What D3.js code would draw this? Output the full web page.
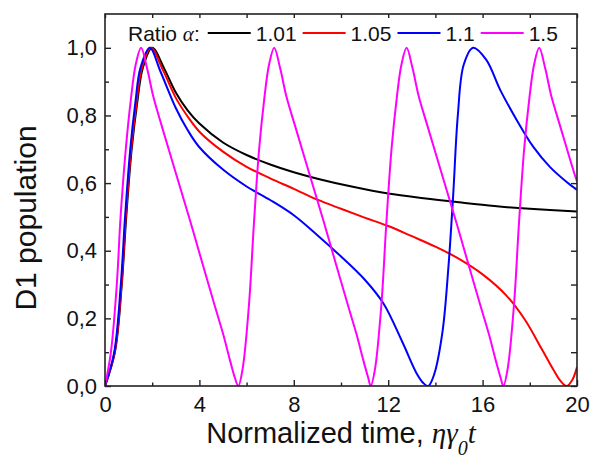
<!DOCTYPE html>
<html>
<head>
<meta charset="utf-8">
<script src="https://cdn.jsdelivr.net/npm/d3@7"></script>
<style>
  body { margin: 0; background: #fff; }
  svg { display: block; font-family: "Liberation Sans", Arial, sans-serif; }
</style>
</head>
<body>
<div id="chart"></div>
<script>
// values: [normalized time, D1 population]
const ratios = ["1.01", "1.05", "1.1", "1.5"];
const colors = ["#000000", "#ff0000", "#0000ff", "#ff00ff"];

const black101 = [[0,0],[0.42,0.1],[0.71,0.3],[0.9,0.5],[1.13,0.7],[1.37,0.84],[1.6,0.94],[2.0,1.0],[2.5,0.94],[3.0,0.868],[3.5,0.815],[4.0,0.776],[5.0,0.72],[6.0,0.683],[7.0,0.655],[8.0,0.632],[9.0,0.613],[10.5,0.589],[12.0,0.569],[13.5,0.555],[15.0,0.543],[16.5,0.532],[18.0,0.524],[20,0.516]];

const red105 = [[0,0],[0.41,0.1],[0.7,0.3],[0.88,0.5],[1.11,0.7],[1.34,0.84],[1.56,0.94],[1.95,1.0],[2.45,0.935],[3.0,0.852],[3.5,0.797],[4.0,0.752],[5.0,0.693],[6.0,0.648],[7.0,0.614],[8.0,0.583],[9.0,0.551],[10.0,0.524],[11.0,0.498],[12.0,0.473],[13.0,0.443],[14.0,0.412],[15.0,0.376],[16.0,0.33],[17.0,0.268],[17.8,0.195],[18.5,0.11],[19.0,0.048],[19.3,0.015],[19.56,0],[19.8,0.018],[20,0.056]];

const blue11 = [[0,0],[0.39,0.1],[0.67,0.3],[0.85,0.5],[1.07,0.7],[1.29,0.84],[1.5,0.94],[1.9,1.0],[2.35,0.93],[3.0,0.822],[3.5,0.757],[4.0,0.706],[5.0,0.64],[6.0,0.59],[7.0,0.55],[8.0,0.505],[9.0,0.446],[10.0,0.383],[11.0,0.315],[11.8,0.244],[12.6,0.13],[13.2,0.038],[13.5,0.008],[13.7,0],[13.95,0.035],[14.3,0.16],[14.55,0.35],[14.75,0.56],[14.95,0.8],[15.2,0.95],[15.6,1.0],[16.15,0.965],[16.75,0.875],[17.45,0.786],[18.15,0.707],[18.85,0.648],[19.55,0.604],[20,0.58]];

const magenta15 = [[0,0],[0.25,0.1],[0.5,0.3],[0.66,0.5],[0.88,0.7],[1.1,0.85],[1.3,0.95],[1.53,1.0],[1.78,0.94],[2.05,0.855],[2.4,0.77],[3.0,0.63],[3.6,0.49],[4.2,0.345],[4.66,0.235],[5.0,0.155],[5.3,0.075],[5.5,0.025],[5.65,0],
  [5.83,0.05],[6.1,0.24],[6.31,0.48],[6.53,0.7],[6.75,0.85],[6.95,0.95],[7.17,1.0],[7.42,0.94],[7.69,0.855],[8.05,0.77],[8.65,0.63],[9.25,0.49],[9.85,0.345],[10.31,0.235],[10.65,0.155],[10.95,0.075],[11.15,0.025],[11.26,0],
  [11.44,0.05],[11.71,0.24],[11.92,0.48],[12.14,0.7],[12.36,0.85],[12.56,0.95],[12.78,1.0],[13.03,0.94],[13.3,0.855],[13.66,0.77],[14.26,0.63],[14.86,0.49],[15.46,0.345],[15.92,0.235],[16.26,0.155],[16.56,0.075],[16.76,0.025],[16.88,0],
  [17.06,0.05],[17.33,0.24],[17.54,0.48],[17.76,0.7],[17.98,0.85],[18.18,0.95],[18.4,1.0],[18.65,0.94],[18.92,0.855],[19.28,0.77],[19.88,0.63],[20,0.605]];

const series = [black101, red105, blue11, magenta15];

const xTicks = [0, 4, 8, 12, 16, 20];
const xMinor = [2, 6, 10, 14, 18];
const yTicks = [0, 0.2, 0.4, 0.6, 0.8, 1.0];
const yTickLabels = ["0,0", "0,2", "0,4", "0,6", "0,8", "1,0"];
const yMinor = [0.1, 0.3, 0.5, 0.7, 0.9];

const W = 592, H = 460;
const margin = { top: 14, right: 15, bottom: 74, left: 105 };

const svg = d3.select("#chart").append("svg").attr("width", W).attr("height", H);

const x = d3.scaleLinear().domain([0, 20]).range([margin.left, W - margin.right]);
const y = d3.scaleLinear().domain([0, 1.1]).range([H - margin.bottom, margin.top]);

svg.append("defs").append("clipPath").attr("id", "plot")
  .append("rect").attr("x", x(0)).attr("y", y(1.1)).attr("width", x(20) - x(0)).attr("height", y(0) - y(1.1));

// curves
const line = d3.line().x(d => x(d[0])).y(d => y(d[1])).curve(d3.curveCatmullRom.alpha(0.5));
series.forEach((s, i) => {
  svg.append("path").datum(s).attr("clip-path", "url(#plot)")
    .attr("fill", "none").attr("stroke", colors[i]).attr("stroke-width", 2).attr("d", line);
});

// axes, ticks pointing inward
const tickStyle = g => {
  g.select(".domain").remove();
  g.selectAll(".tick line").attr("stroke", "#222").attr("stroke-width", 1.4);
  g.selectAll(".tick text").attr("fill", "#111").style("font-size", "22px");
};

svg.append("g").attr("transform", `translate(0,${y(0)})`)
  .call(d3.axisBottom(x).tickValues(xTicks).tickSize(-6).tickPadding(10).tickFormat(d3.format("d"))).call(tickStyle);
svg.append("g").attr("transform", `translate(0,${y(0)})`)
  .call(d3.axisBottom(x).tickValues(xMinor).tickSize(-3.5).tickFormat("")).call(tickStyle);
svg.append("g").attr("transform", `translate(${x(0)},0)`)
  .call(d3.axisLeft(y).tickValues(yTicks).tickSize(-6).tickPadding(8).tickFormat((d, i) => yTickLabels[i])).call(tickStyle);
svg.append("g").attr("transform", `translate(${x(0)},0)`)
  .call(d3.axisLeft(y).tickValues(yMinor).tickSize(-4).tickFormat("")).call(tickStyle);
svg.append("g").attr("transform", `translate(0,${y(1.1)})`)
  .call(d3.axisTop(x).tickValues(xTicks.concat(xMinor)).tickSize(-4).tickFormat("")).call(tickStyle);
svg.append("g").attr("transform", `translate(${x(20)},0)`)
  .call(d3.axisRight(y).tickValues(yTicks.concat(yMinor)).tickSize(-6).tickFormat("")).call(tickStyle);

svg.append("rect").attr("x", x(0)).attr("y", y(1.1)).attr("width", x(20) - x(0)).attr("height", y(0) - y(1.1))
  .attr("fill", "none").attr("stroke", "#222").attr("stroke-width", 1.6);

// axis titles
svg.append("text").attr("transform", `translate(36,218) rotate(-90)`)
  .attr("text-anchor", "middle").style("font-size", "30px").attr("fill", "#111").text("D1 population");

const xt = svg.append("text").attr("x", (x(0) + x(20)) / 2).attr("y", 443)
  .attr("text-anchor", "middle").style("font-size", "29px").attr("fill", "#111");
xt.append("tspan").text("Normalized time, ");
xt.append("tspan").style("font-family", "'Liberation Serif', serif").style("font-style", "italic").text("ηγ");
xt.append("tspan").attr("dy", 12).style("font-family", "'Liberation Serif', serif").style("font-style", "italic").style("font-size", "20px").text("0");
xt.append("tspan").attr("dy", -12).style("font-family", "'Liberation Serif', serif").style("font-style", "italic").text("t");

// legend
const legY = 33;
const leg = svg.append("g");
const title = leg.append("text").attr("x", 128).attr("y", legY + 7.5).style("font-size", "21px").attr("fill", "#111");
title.append("tspan").text("Ratio ");
title.append("tspan").style("font-family", "'Liberation Serif', serif").style("font-style", "italic").text("α");
title.append("tspan").text(":");
let cx = 128 + title.node().getComputedTextLength() + 8;
ratios.forEach((r, i) => {
  leg.append("line").attr("x1", cx).attr("x2", cx + 43).attr("y1", legY).attr("y2", legY)
    .attr("stroke", colors[i]).attr("stroke-width", 2);
  cx += 48;
  const t = leg.append("text").attr("x", cx).attr("y", legY + 7.5).style("font-size", "21px").attr("fill", "#111").text(r);
  cx += t.node().getComputedTextLength() + 6;
});
</script>
</body>
</html>
